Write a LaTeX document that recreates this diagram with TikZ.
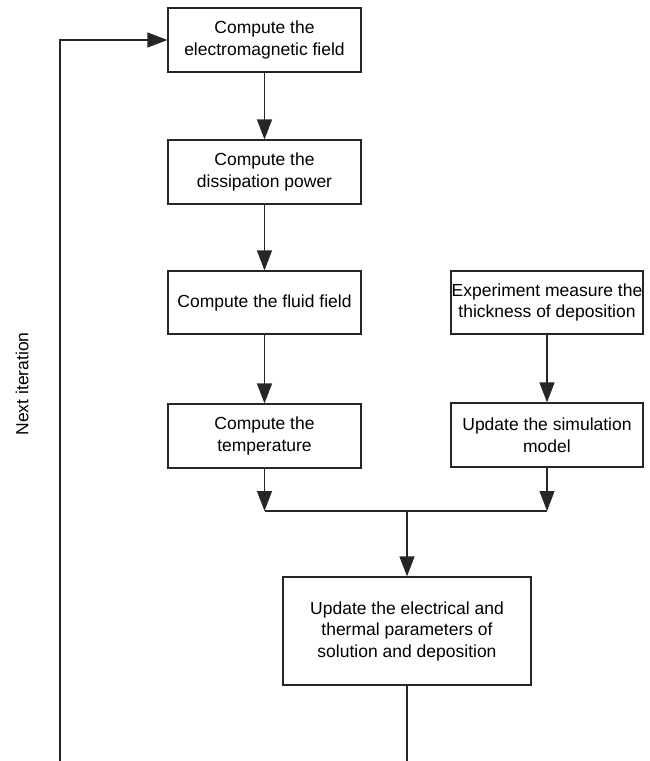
\documentclass[tikz,border=0pt]{standalone}
\usepackage{fontspec}
\setmainfont{Liberation Sans}
\usetikzlibrary{arrows.meta}
\begin{document}
\begin{tikzpicture}[x=1pt,y=-1pt,
  box/.style={draw=black!85, line width=1.2pt, minimum width=193pt, minimum height=64pt, inner sep=0pt, align=center, font=\fontsize{17.5}{21.5}\selectfont, text=black},
  arr/.style={draw=black!85, line width=1.2pt, -{Triangle[length=20pt,width=15pt]}},
  ln/.style={draw=black!85, line width=1.2pt}]
\useasboundingbox (0,0) rectangle (650,761);
\node[box] (b1) at (264.5,40) {Compute the\\electromagnetic field};
\node[box] (b2) at (264.5,172) {Compute the\\dissipation power};
\node[box, minimum height=63pt] (b3) at (264.5,302.5) {Compute the fluid field};
\node[box] (b4) at (264.5,436) {Compute the\\temperature};
\node[box, minimum width=192pt, minimum height=63pt] (b5) at (547,302.5) {Experiment measure the\\thickness of deposition};
\node[box, minimum width=192pt] (b6) at (547,435) {Update the simulation\\model};
\node[box, minimum width=248pt, minimum height=108pt] (b7) at (407,631) {Update the electrical and\\thermal parameters of\\solution and deposition};
\coordinate (jl) at (264.5,511);
\coordinate (jr) at (547,511);
\coordinate (jm) at (407,511);
\coordinate (botR) at (407,761);
\coordinate (botL) at (60,761);
\draw[arr] (b1) -- (b2);
\draw[arr] (b2) -- (b3);
\draw[arr] (b3) -- (b4);
\draw[arr] (b5) -- (b6);
\draw[arr] (b4) -- (jl);
\draw[arr] (b6) -- (jr);
\draw[ln] (jl) -- (jr);
\draw[arr] (jm) -- (b7);
\draw[ln] (b7) -- (botR);
\draw[arr] (botL) |- (b1.west);
\node[rotate=90, font=\fontsize{17.5}{21.5}\selectfont, text=black] (lbl) at (22,384) {Next iteration};
\end{tikzpicture}
\end{document}
